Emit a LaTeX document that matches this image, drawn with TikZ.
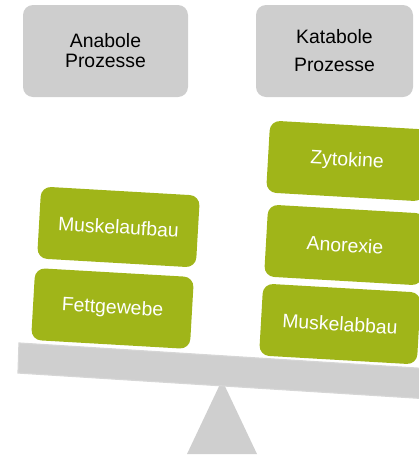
\documentclass[tikz,border=0pt]{standalone}
\usepackage{fontspec}
\setmainfont{Liberation Sans}
\definecolor{boxgray}{RGB}{206,206,206}
\definecolor{beamgray}{RGB}{207,207,207}
\definecolor{beamedge}{RGB}{214,214,214}
\definecolor{leaf}{RGB}{160,181,25}
\begin{document}
\begin{tikzpicture}[x=1pt,y=-1pt,
  procbox/.style={fill=boxgray,rounded corners=10pt,minimum width=165pt,minimum height=92pt,inner sep=0pt,align=center,font=\fontsize{19.4}{20}\selectfont},
  factor/.style={fill=leaf,text=white,rounded corners=10pt,minimum width=158pt,minimum height=72pt,inner sep=0pt,rotate=-3.3,font=\fontsize{19.4}{20}\selectfont}]
\useasboundingbox (0,0) rectangle (419,456);
\begin{scope}
\clip (0,0) rectangle (419,456);
% fulcrum
\fill[beamgray] (222,380) coordinate (apex) -- (187,454) coordinate (bl) -- (257,454) coordinate (br) -- cycle;
% beam
\filldraw[fill=beamgray,draw=beamedge,line width=1.2pt]
  (19,343) coordinate (btl) -- (440,369.5) coordinate (btr) -- (440,399.6) coordinate (bbr) -- (18,373) coordinate (bbl) -- cycle;
% factors
\node[factor] (zyt) at (347,161) {Zytokine};
\node[factor] (ano) at (345,245) {Anorexie};
\node[factor] (mab) at (340,324) {Muskelabbau};
\node[factor,minimum width=159pt] (mau) at (118.5,227) {Muskelaufbau};
\node[factor,minimum width=159pt] (fet) at (112.5,308.5) {Fettgewebe};
\end{scope}
% process boxes
\node[procbox] (ana) at (105.5,51) {Anabole\\Prozesse};
\node[procbox,minimum width=157pt,font=\fontsize{19.4}{28}\selectfont] (kat) at (334.5,51) {Katabole\\Prozesse};
\end{tikzpicture}
\end{document}
